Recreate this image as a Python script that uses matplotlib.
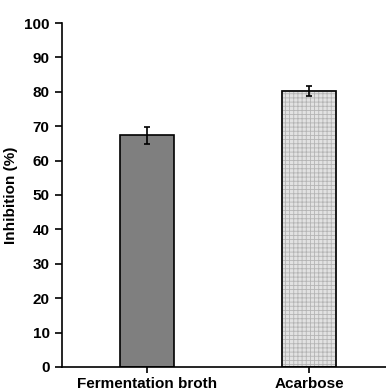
import numpy as np
import matplotlib
matplotlib.use('Agg')
import matplotlib.pyplot as plt

plt.rcParams['font.family'] = ['Liberation Sans', 'DejaVu Sans']
plt.rcParams['font.weight'] = 'bold'
plt.rcParams['hatch.linewidth'] = 0.6

categories = ['Fermentation broth', 'Acarbose']
inhibition = [67.3, 80.2]
errors = [2.4, 1.5]
yticks = list(range(0, 101, 10))

fig = plt.figure(figsize=(3.86, 3.90), dpi=100)
ax = fig.add_axes([0.161, 0.059, 0.839, 0.882])

x = np.arange(len(categories))
bars = ax.bar(x, inhibition, width=0.333, color=['#7f7f7f', '#e2e2e2'],
              edgecolor='black', linewidth=1.2, zorder=2)
bars[1].set_hatch('++++')
bars[1].set_edgecolor('#b4b4b4')
# black outline over the hatched bar
ax.bar(x[1], inhibition[1], width=0.333, fill=False, edgecolor='black',
       linewidth=1.2, zorder=3)
ax.errorbar(x, inhibition, yerr=errors, fmt='none', ecolor='black',
            elinewidth=1.2, capsize=2.5, capthick=1.2, zorder=4)

ax.set_xlim(-0.525, 1.475)
ax.set_ylim(0, 100)
ax.set_yticks(yticks)
ax.set_xticks(x)
ax.set_xticklabels(categories, fontsize=11, fontweight='bold')
ax.tick_params(axis='y', labelsize=11, direction='out', length=5, width=1.2, pad=4)
ax.tick_params(axis='x', direction='out', length=4, width=1.2, pad=3)
ax.set_ylabel('Inhibition (%)', fontsize=11, fontweight='bold')
ax.yaxis.set_label_coords(-0.135, 0.5)
for s in ['top', 'right']:
    ax.spines[s].set_visible(False)
for s in ['left', 'bottom']:
    ax.spines[s].set_linewidth(1.2)

fig.savefig('out.png', dpi=100)
